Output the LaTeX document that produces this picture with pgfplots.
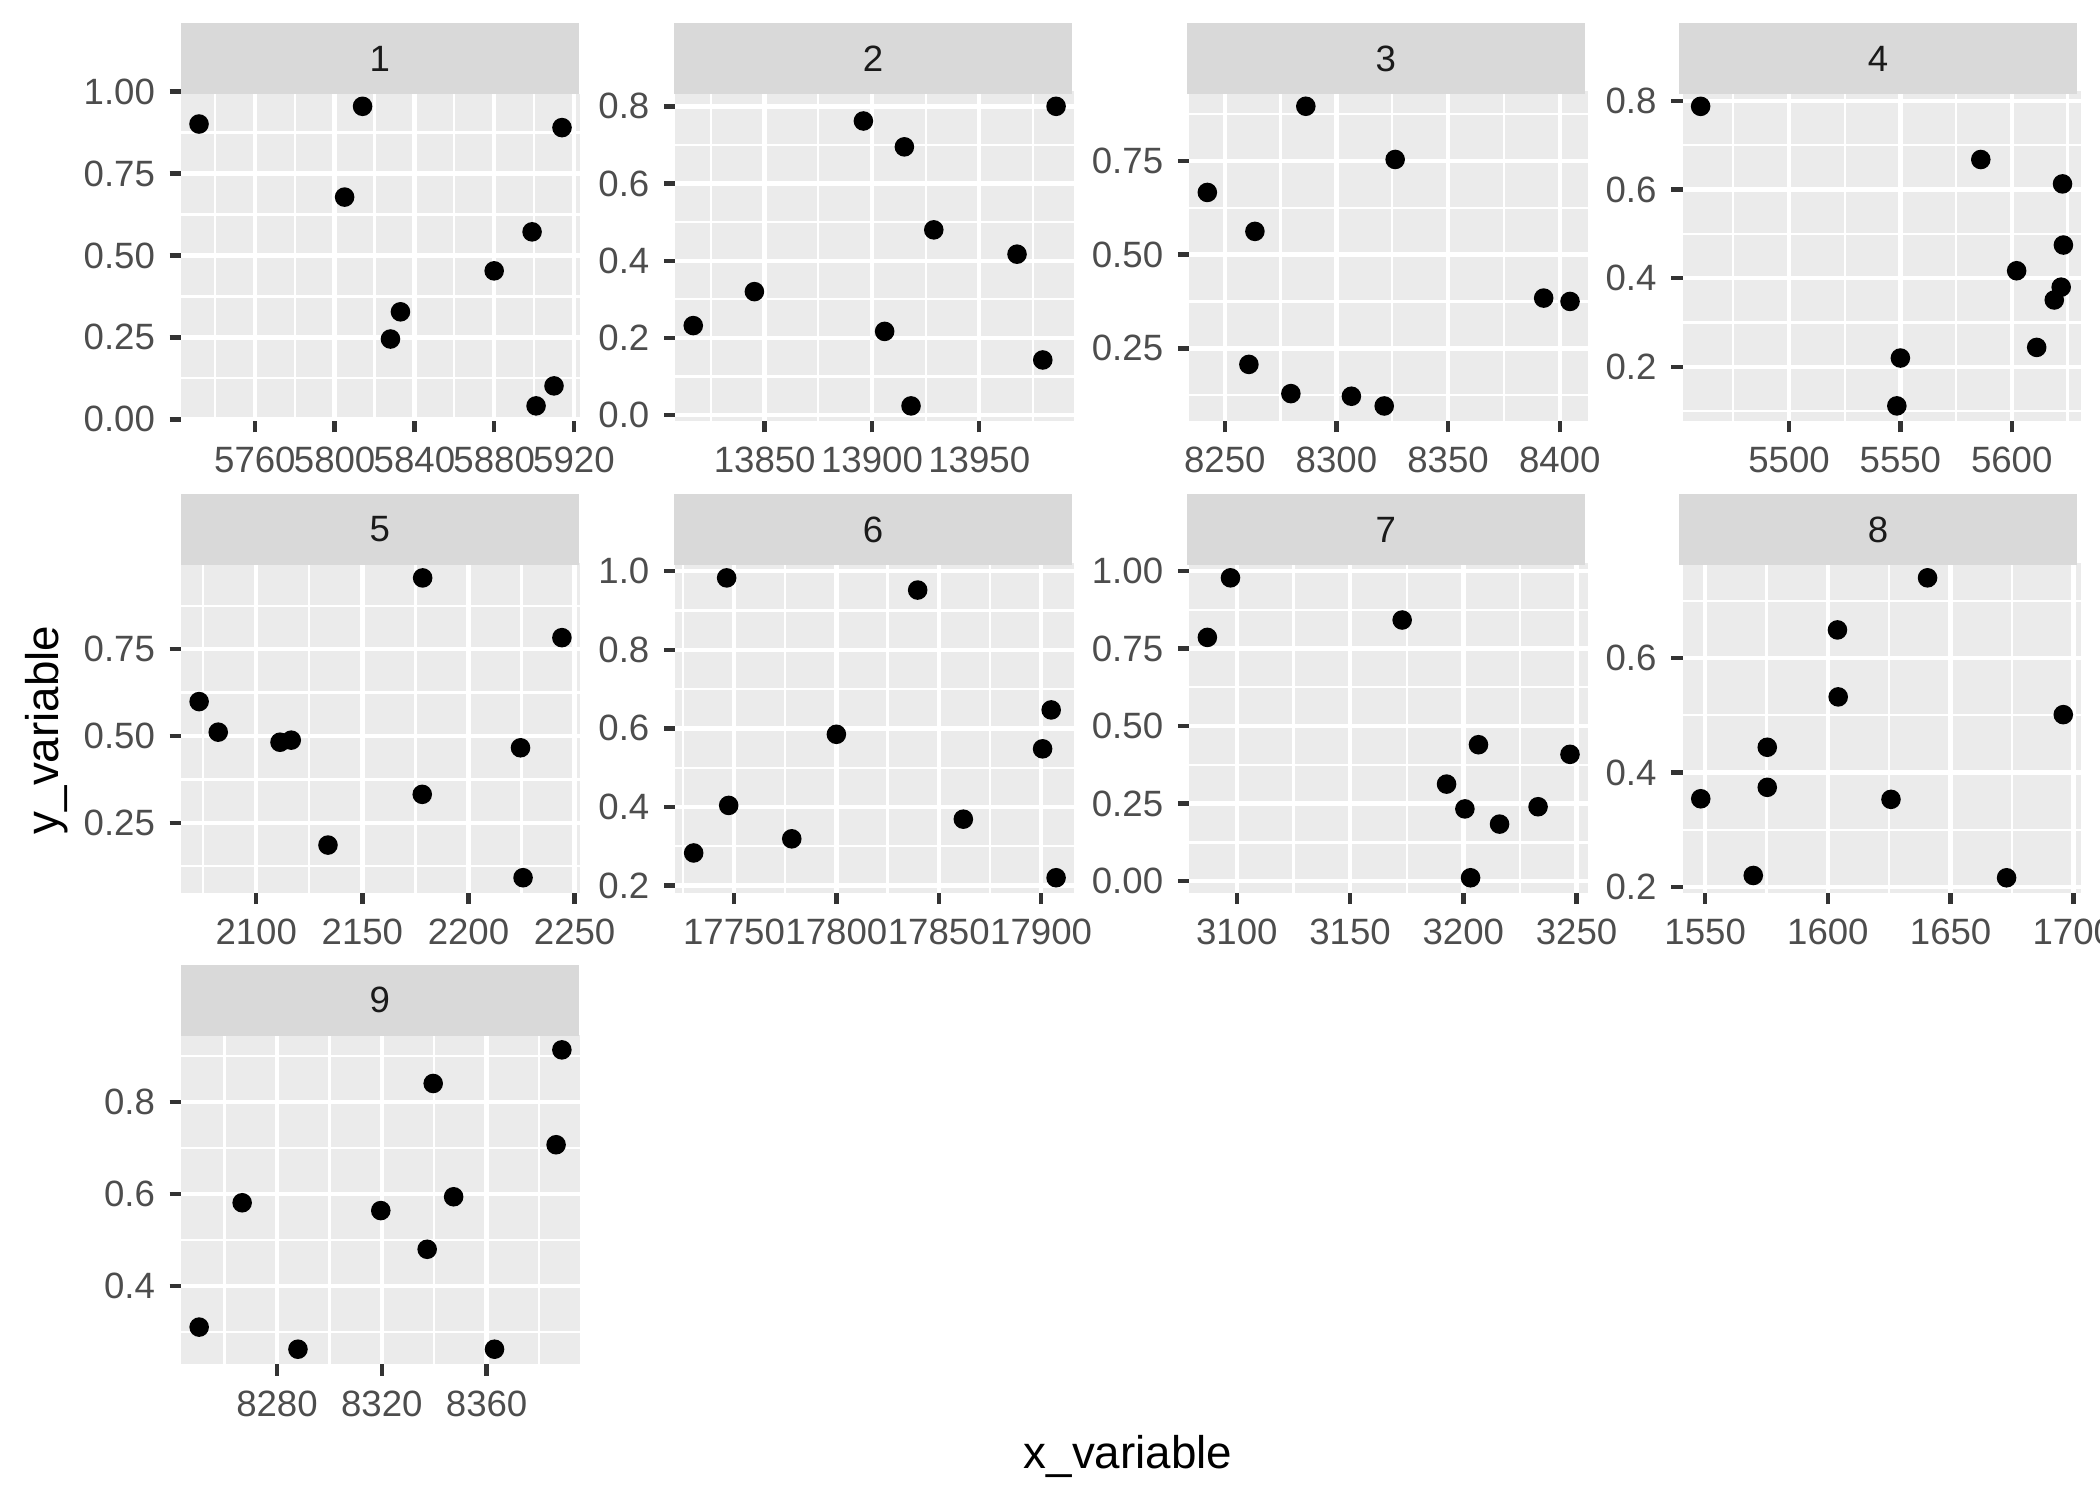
\documentclass[border=0pt]{standalone}
\usepackage{fontspec}
\setmainfont{Liberation Sans}
\usepackage{pgfplots}
\pgfplotsset{compat=1.18}

\definecolor{ggbg}{HTML}{EBEBEB}
\definecolor{stripbg}{HTML}{D9D9D9}
\definecolor{tickc}{HTML}{333333}
\definecolor{labc}{HTML}{4D4D4D}
\definecolor{stripc}{HTML}{1A1A1A}

% one picture unit = one pixel of the 2100x1500 image (7in x 5in), 1px = 0.2409pt
\def\pxlen{0.00333333in}

\pgfplotsset{
  facet/.style={
    scale only axis, width=1.3267in, height=1.0967in, anchor=south west,
    axis background/.style={fill=ggbg},
    axis line style={draw=none},
    tick pos=left, tick align=outside,
    major tick length=2.75pt, minor tick length=0pt,
    tick style={color=tickc, line width=1.07pt},
    grid=both,
    major grid style={white, line width=1.07pt},
    minor grid style={white, line width=0.53pt},
    ticklabel style={font=\fontsize{8.8}{10}\selectfont, text=labc},
    scaled ticks=false,
    /pgf/number format/assume math mode=true,
    clip=false,
  },
  pts/.style={only marks, mark=*, mark size=2.15pt, mark options={draw=none, fill=black}},
}

\newcommand{\strip}[3]{%
  \fill[stripbg] (#1,#2) rectangle ++(398,71);
  \node[font=\fontsize{8.8}{10}\selectfont, text=stripc] at ({#1+199},{#2+35.5}) {#3};
}

\begin{document}
\begin{tikzpicture}[x=\pxlen, y=\pxlen]
\path[use as bounding box] (0,0) rectangle (2100,1500);

% ---- row 1 ----
\begin{axis}[facet, at={(43.53pt,259.38pt)},
  xmin=5723, xmax=5923, ymin=-0.005, ymax=1.001,
  xtick={5760,5800,5840,5880,5920}, xticklabels={5760,5800,5840,5880,5920},
  minor xtick={5740,5780,5820,5860,5900},
  ytick={0,0.25,0.5,0.75,1}, yticklabels={0.00,0.25,0.50,0.75,1.00},
  minor ytick={0.125,0.375,0.625,0.875}]
\addplot[pts] coordinates {
  (5732,0.901) (5814,0.955) (5914,0.890) (5805,0.678) (5899,0.572)
  (5880,0.453) (5833,0.328) (5828,0.245) (5910,0.102) (5901,0.041)};
\end{axis}
\strip{180.7}{1405.7}{1}

\begin{axis}[facet, at={(162.37pt,259.38pt)},
  xmin=13808.4, xmax=13994.3, ymin=-0.015, ymax=0.839,
  xtick={13850,13900,13950}, xticklabels={13850,13900,13950},
  minor xtick={13825,13875,13925,13975},
  ytick={0,0.2,0.4,0.6,0.8}, yticklabels={0.0,0.2,0.4,0.6,0.8},
  minor ytick={0.1,0.3,0.5,0.7}]
\addplot[pts] coordinates {
  (13816.7,0.232) (13845.2,0.320) (13896,0.762) (13915.1,0.695) (13928.8,0.480)
  (13905.9,0.217) (13918.2,0.024) (13967.6,0.417) (13979.6,0.143) (13985.8,0.800)};
\end{axis}
\strip{674}{1405.7}{2}

\begin{axis}[facet, at={(285.88pt,259.38pt)},
  xmin=8234.1, xmax=8412.7, ymin=0.056, ymax=0.936,
  xtick={8250,8300,8350,8400}, xticklabels={8250,8300,8350,8400},
  minor xtick={8275,8325,8375},
  ytick={0.25,0.5,0.75}, yticklabels={0.25,0.50,0.75},
  minor ytick={0.125,0.375,0.625,0.875}]
\addplot[pts] coordinates {
  (8242.2,0.666) (8286.3,0.896) (8326.3,0.754) (8263.5,0.562) (8260.8,0.207)
  (8279.6,0.129) (8306.7,0.122) (8321.4,0.096) (8392.8,0.384) (8404.6,0.375)};
\end{axis}
\strip{1186.7}{1405.7}{3}

\begin{axis}[facet, at={(404.47pt,259.38pt)},
  xmin=5452.2, xmax=5631.3, ymin=0.078, ymax=0.822,
  xtick={5500,5550,5600}, xticklabels={5500,5550,5600},
  minor xtick={5475,5525,5575,5625},
  ytick={0.2,0.4,0.6,0.8}, yticklabels={0.2,0.4,0.6,0.8},
  minor ytick={0.1,0.3,0.5,0.7}]
\addplot[pts] coordinates {
  (5460.3,0.788) (5586.1,0.668) (5622.8,0.613) (5623.2,0.475) (5602.2,0.417)
  (5622.2,0.380) (5619.1,0.351) (5611.2,0.244) (5550,0.220) (5548.4,0.112)};
\end{axis}
\strip{1679}{1405.7}{4}

% ---- row 2 ----
\begin{axis}[facet, at={(43.53pt,145.99pt)},
  xmin=2064.6, xmax=2252.5, ymin=0.049, ymax=0.998,
  xtick={2100,2150,2200,2250}, xticklabels={2100,2150,2200,2250},
  minor xtick={2075,2125,2175,2225},
  ytick={0.25,0.5,0.75}, yticklabels={0.25,0.50,0.75},
  minor ytick={0.125,0.375,0.625,0.875}]
\addplot[pts] coordinates {
  (2073.1,0.599) (2082.1,0.511) (2111.2,0.482) (2116.5,0.488) (2178.4,0.955)
  (2244.0,0.783) (2224.5,0.466) (2178.2,0.332) (2133.8,0.186) (2225.7,0.092)};
\end{axis}
\strip{180.7}{935}{5}

\begin{axis}[facet, at={(162.37pt,145.99pt)},
  xmin=17721.4, xmax=17916.2, ymin=0.182, ymax=1.021,
  xtick={17750,17800,17850,17900}, xticklabels={17750,17800,17850,17900},
  minor xtick={17725,17775,17825,17875},
  ytick={0.2,0.4,0.6,0.8,1.0}, yticklabels={0.2,0.4,0.6,0.8,1.0},
  minor ytick={0.3,0.5,0.7,0.9}]
\addplot[pts] coordinates {
  (17746.4,0.983) (17839.7,0.952) (17904.9,0.647) (17900.7,0.548) (17800,0.585)
  (17747.4,0.404) (17730.3,0.283) (17778.2,0.319) (17862.0,0.369) (17907.3,0.220)};
\end{axis}
\strip{674}{935}{6}

\begin{axis}[facet, at={(285.88pt,145.99pt)},
  xmin=3079, xmax=3255.1, ymin=-0.037, ymax=1.026,
  xtick={3100,3150,3200,3250}, xticklabels={3100,3150,3200,3250},
  minor xtick={3125,3175,3225},
  ytick={0,0.25,0.5,0.75,1}, yticklabels={0.00,0.25,0.50,0.75,1.00},
  minor ytick={0.125,0.375,0.625,0.875}]
\addplot[pts] coordinates {
  (3097.2,0.978) (3087.0,0.786) (3173.0,0.842) (3206.7,0.440) (3247.1,0.409)
  (3192.6,0.313) (3200.7,0.233) (3216.0,0.184) (3233.0,0.240) (3203.2,0.011)};
\end{axis}
\strip{1186.7}{935}{7}

\begin{axis}[facet, at={(404.47pt,145.99pt)},
  xmin=1540.8, xmax=1703.3, ymin=0.190, ymax=0.766,
  xtick={1550,1600,1650,1700}, xticklabels={1550,1600,1650,1700},
  minor xtick={1575,1625,1675},
  ytick={0.2,0.4,0.6}, yticklabels={0.2,0.4,0.6},
  minor ytick={0.3,0.5,0.7}]
\addplot[pts] coordinates {
  (1640.6,0.740) (1603.9,0.649) (1604.2,0.532) (1695.9,0.501) (1575.3,0.444)
  (1575.3,0.374) (1548.2,0.354) (1625.7,0.353) (1569.6,0.220) (1672.8,0.216)};
\end{axis}
\strip{1679}{935}{8}

% ---- row 3 ----
\begin{axis}[facet, at={(43.53pt,32.59pt)},
  xmin=8243.4, xmax=8395.6, ymin=0.230, ymax=0.946,
  xtick={8280,8320,8360}, xticklabels={8280,8320,8360},
  minor xtick={8260,8300,8340,8380},
  ytick={0.4,0.6,0.8}, yticklabels={0.4,0.6,0.8},
  minor ytick={0.3,0.5,0.7,0.9}]
\addplot[pts] coordinates {
  (8250.3,0.311) (8266.7,0.581) (8288.0,0.263) (8319.6,0.564) (8337.3,0.480)
  (8339.6,0.840) (8347.4,0.594) (8363.0,0.263) (8386.5,0.707) (8388.7,0.913)};
\end{axis}
\strip{180.7}{464.3}{9}

% axis titles
\node[font=\fontsize{11}{13}\selectfont] at (1128,43.3) {x\_variable};
\node[font=\fontsize{11}{13}\selectfont, rotate=90] at (47,770) {y\_variable};
\end{tikzpicture}
\end{document}
